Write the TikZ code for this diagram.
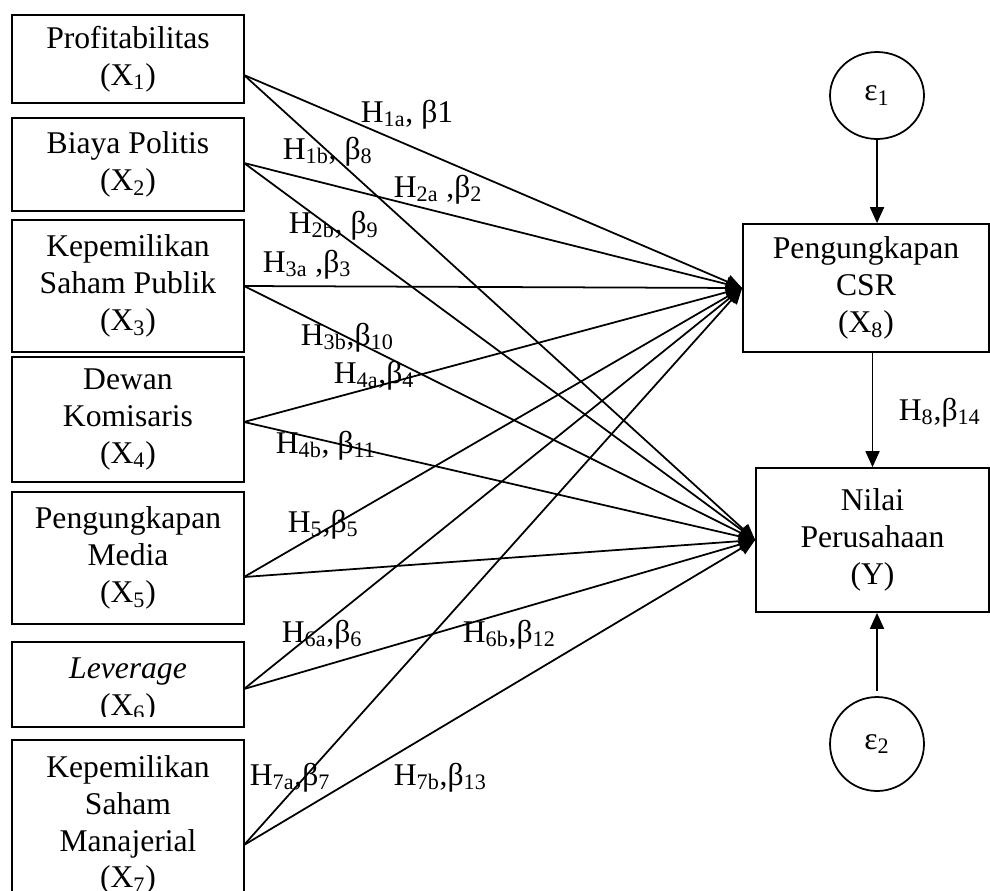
\documentclass[tikz,border=0pt]{standalone}
\usepackage{fontspec}
\setmainfont{Liberation Serif}
\usepackage{tikz}
\usetikzlibrary{arrows.meta,positioning,shapes.geometric}

\begin{document}
\begin{tikzpicture}[x=0.02cm, y=-0.02cm, line width=1pt, font=\fontsize{18}{21}\selectfont]
  \tikzstyle{box}=[rectangle, draw, minimum width=4.64cm, align=center, inner sep=0pt]
  \tikzstyle{arr}=[-{Triangle[length=0.32cm, width=0.28cm]}]
  \tikzstyle{lbl}=[anchor=base west, inner sep=0pt]
  \tikzstyle{err}=[draw, inner sep=0pt, font=\fontsize{18}{21}\selectfont]
  \clip (0,0) rectangle (990,890);
  % independent variables
  \node[box, minimum height=1.76cm] (b1) at (128,59) {Profitabilitas\\(X\textsubscript{1})};
  \node[box, minimum height=1.86cm] (b2) at (128,164.5) {Biaya Politis\\(X\textsubscript{2})};
  \node[box, minimum height=2.64cm] (b3) at (128,286) {Kepemilikan\\Saham Publik\\(X\textsubscript{3})};
  \node[box, minimum height=2.5cm] (b4) at (128,419.5) {Dewan\\Komisaris\\(X\textsubscript{4})};
  \node[box, minimum height=2.64cm] (b5) at (128,558) {Pengungkapan\\Media\\(X\textsubscript{5})};
  \node[box, minimum height=1.7cm] (b6) at (128,684.5) {};
  \begin{scope}
    \clip (12,642) rectangle (244,716);
    \node[align=center] (t6) at (128,690) {\textit{Leverage}\\(X\textsubscript{6})};
  \end{scope}
  \node[box, minimum height=3.4cm] (b7) at (128,825) {Kepemilikan\\Saham\\Manajerial\\(X\textsubscript{7})};
  % dependent variables
  \node[box, minimum width=4.92cm, minimum height=2.56cm] (csr) at (866,288) {Pengungkapan\\CSR\\(X\textsubscript{8})};
  \node[box, minimum width=4.66cm, minimum height=2.88cm] (nilai) at (872.5,540) {Nilai\\Perusahaan\\(Y)};
  \node[err, ellipse, minimum width=1.88cm, minimum height=1.74cm] (e1) at (877,95.5) {ε\textsubscript{1}};
  \node[err, circle, minimum size=1.88cm] (e2) at (877,744) {ε\textsubscript{2}};
  % paths
  \foreach \i/\y in {1/75,2/163,3/286,4/422,5/577,6/689,7/845}
    \coordinate (s\i) at (244,\y);
  \foreach \i in {1,...,7} {
    \draw[arr] (s\i) -- (csr.west);
    \draw[arr] (s\i) -- (nilai.west);
  }
  \draw[arr] (e1) -- (e1 |- csr.north);
  \draw[arr] (csr.south -| nilai.north) -- (nilai.north);
  \draw[arr, shorten <=0.1cm] (e2) -- (e2 |- nilai.south);
  % labels
  \node[lbl] (h1a) at (360,122) {H\textsubscript{1a}, β1};
  \node[lbl] (h1b) at (282,159) {H\textsubscript{1b}, β\textsubscript{8}};
  \node[lbl] (h2a) at (393,197) {H\textsubscript{2a} ,β\textsubscript{2}};
  \node[lbl] (h2b) at (288,233) {H\textsubscript{2b}, β\textsubscript{9}};
  \node[lbl] (h3a) at (262,272) {H\textsubscript{3a} ,β\textsubscript{3}};
  \node[lbl] (h3b) at (300,345) {H\textsubscript{3b},β\textsubscript{10}};
  \node[lbl] (h4a) at (333,383) {H\textsubscript{4a},β\textsubscript{4}};
  \node[lbl] (h4b) at (275,453) {H\textsubscript{4b}, β\textsubscript{11}};
  \node[lbl] (h5) at (287,532) {H\textsubscript{5},β\textsubscript{5}};
  \node[lbl] (h6a) at (281,642) {H\textsubscript{6a},β\textsubscript{6}};
  \node[lbl] (h6b) at (462,642) {H\textsubscript{6b},β\textsubscript{12}};
  \node[lbl] (h7a) at (249,785) {H\textsubscript{7a},β\textsubscript{7}};
  \node[lbl] (h7b) at (393,785) {H\textsubscript{7b},β\textsubscript{13}};
  \node[lbl] (h8) at (898,420) {H\textsubscript{8},β\textsubscript{14}};
\end{tikzpicture}
\end{document}
